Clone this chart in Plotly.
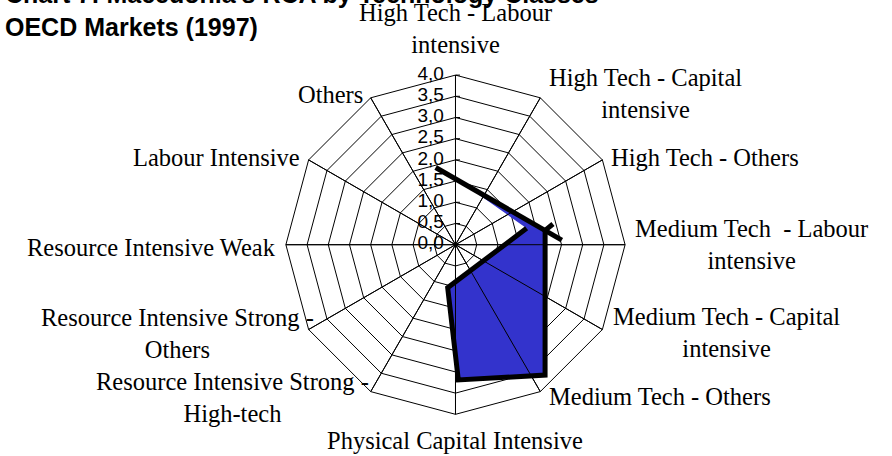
import math
import plotly.graph_objects as go

# categories of the radar (clockwise from the top)
categories = [
    "High Tech - Labour<br>intensive",
    "High Tech - Capital<br>intensive",
    "High Tech - Others",
    "Medium Tech&nbsp; - Labour<br>intensive",
    "Medium Tech - Capital<br>intensive",
    "Medium Tech - Others",
    "Physical Capital Intensive",
    "Resource Intensive Strong -<br>High-tech",
    "Resource Intensive Strong -<br>Others",
    "Resource Intensive Weak",
    "Labour Intensive",
    "Others",
]

radial_ticks = [0.0, 0.5, 1.0, 1.5, 2.0, 2.5, 3.0, 3.5, 4.0]
radial_tick_labels = ["0,0", "0,5", "1,0", "1,5", "2,0", "2,5", "3,0", "3,5", "4,0"]

# RCA shape as drawn in the original (angle in degrees clockwise from top, value)
fill_theta = [23.9, 80.9, 145.5, 178.8, 190.3, 77.0, 23.9]
fill_r = [1.31, 2.14, 3.73, 3.19, 1.03, 1.72, 1.31]

line1_theta = [345.6, 87.5]
line1_r = [1.88, 2.51]

line2_theta = [77.0, 190.3, 178.8, 145.5, 80.9, 78.0]
line2_r = [1.72, 1.03, 3.19, 3.73, 2.14, 2.35]

# layout helpers (label gap from the outer vertex and vertical nudge, px)
label_gap = [15, 7, 7, 8, 9, 7, 11, 0, -7, 8, 7, 6]
label_dy = [0, -4, -2, 0, 3, 5, 0, 6, 4, 3, -2, -3]

W, H = 892, 456
dom = dict(x=[0.3205, 0.7008], y=[0.0914, 0.8353])
rrange = [-0.001, 4]

fig = go.Figure()

# invisible trace so the polygon grid subplot gets drawn
fig.add_trace(go.Scatterpolar(
    r=radial_ticks, theta=[categories[0]] * len(radial_ticks), mode="markers",
    marker=dict(size=1, color="rgba(0,0,0,0)"),
    subplot="polar", showlegend=False, hoverinfo="skip"))

fig.add_trace(go.Scatterpolar(
    r=fill_r, theta=fill_theta, mode="lines", fill="toself",
    fillcolor="#3333CC", line=dict(color="rgba(0,0,0,0)", width=0),
    subplot="polar2", showlegend=False, hoverinfo="skip"))

# tick labels of the value axis (top spoke = 0 degrees)
fig.add_trace(go.Scatterpolar(
    r=radial_ticks, theta=[0] * len(radial_ticks),
    mode="markers+text", text=radial_tick_labels, textposition="middle left",
    marker=dict(size=17, color="rgba(0,0,0,0)"), cliponaxis=False,
    textfont=dict(family="Liberation Sans", size=19, color="black"),
    subplot="polar2", showlegend=False, hoverinfo="skip"))

fig.add_trace(go.Scatterpolar(
    r=line1_r, theta=line1_theta, mode="lines",
    line=dict(color="black", width=5),
    subplot="polar3", showlegend=False, hoverinfo="skip"))

fig.add_trace(go.Scatterpolar(
    r=line2_r, theta=line2_theta, mode="lines",
    line=dict(color="black", width=5),
    subplot="polar3", showlegend=False, hoverinfo="skip"))

annotations = [dict(
    text="Chart 7: Macedonia's RCA by Technology Classes<br>OECD Markets (1997)",
    xref="paper", yref="paper", x=0.0034, y=0.905, xanchor="left", yanchor="bottom",
    align="left", showarrow=False,
    font=dict(family="Liberation Sans", size=25, color="black", weight="bold"))]

# category labels placed just outside each outer vertex
cx = (dom["x"][0] + dom["x"][1]) / 2 * W
cy = (dom["y"][0] + dom["y"][1]) / 2 * H
R = (dom["x"][1] - dom["x"][0]) * W / 2
n = len(categories)
for k, name in enumerate(categories):
    a = math.radians(360 / n * k)
    s, c = math.sin(a), math.cos(a)
    vx, vy = cx + R * s, cy + R * c
    if abs(s) < 1e-6:
        x, y = vx, vy + (label_gap[k] if c > 0 else -label_gap[k])
        xa, ya = "center", ("bottom" if c > 0 else "top")
    else:
        x = vx + (label_gap[k] if s > 0 else -label_gap[k])
        y = vy - label_dy[k]
        xa, ya = ("left" if s > 0 else "right"), "middle"
    annotations.append(dict(
        text=name, x=x / W, y=y / H, xref="paper", yref="paper",
        xanchor=xa, yanchor=ya, align="center", showarrow=False,
        font=dict(family="Liberation Serif", size=24.5, color="black")))

hidden_radial = dict(range=rrange, visible=False, showgrid=False)

fig.update_layout(
    width=W, height=H, autosize=False,
    margin=dict(l=0, r=0, t=0, b=0),
    paper_bgcolor="white",
    polar=dict(
        domain=dom, bgcolor="white", gridshape="linear",
        angularaxis=dict(type="category", categoryarray=categories,
                         rotation=90, direction="clockwise",
                         showgrid=True, gridcolor="black", gridwidth=1,
                         showline=True, linecolor="black", linewidth=1,
                         ticks="", showticklabels=False),
        radialaxis=dict(range=rrange, tick0=0, dtick=0.5, angle=90,
                        showgrid=True, gridcolor="black", gridwidth=1,
                        showline=True, linecolor="black", linewidth=1,
                        ticks="outside", ticklen=4, tickcolor="black",
                        showticklabels=False),
    ),
    polar2=dict(
        domain=dom, bgcolor="rgba(0,0,0,0)",
        angularaxis=dict(type="linear", rotation=90, direction="clockwise",
                         showgrid=False, showline=False, showticklabels=False, ticks=""),
        radialaxis=hidden_radial,
    ),
    polar3=dict(
        domain=dom, bgcolor="rgba(0,0,0,0)",
        angularaxis=dict(type="linear", rotation=90, direction="clockwise",
                         tick0=0, dtick=30, showgrid=True, gridcolor="black", gridwidth=1,
                         showline=False, showticklabels=False, ticks=""),
        radialaxis=hidden_radial,
    ),
    annotations=annotations,
)

fig.write_html("out.html", config={"displayModeBar": False},
               post_script="document.body.style.margin='0';")
